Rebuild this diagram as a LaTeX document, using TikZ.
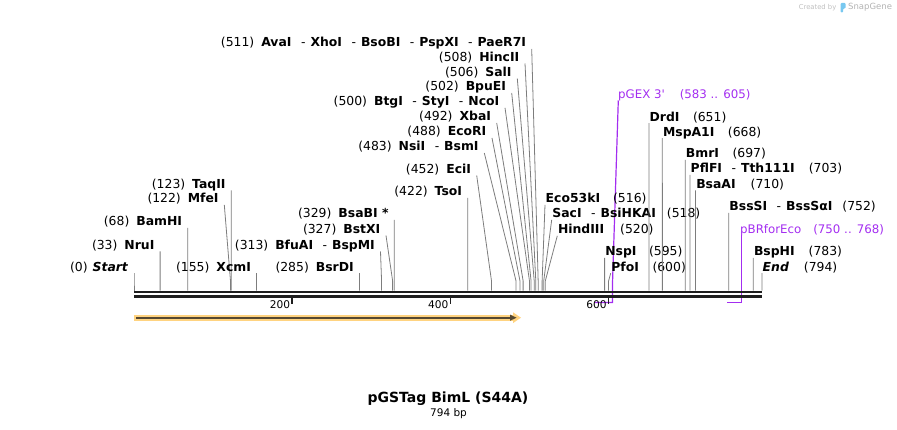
\documentclass[tikz,border=0pt]{standalone}
\usepackage{fontspec}
\setmainfont{DejaVu Sans}
\newfontfamily\featfont{DejaVu Sans}
\definecolor{cutgray}{RGB}{125,125,125}
\definecolor{featpurple}{RGB}{163,45,240}
\definecolor{featorange}{RGB}{255,211,128}
\definecolor{featdark}{RGB}{85,72,50}
\definecolor{barblack}{RGB}{30,30,30}
\definecolor{logoblue}{RGB}{120,200,240}
\newcommand{\gapL}{\hspace{7pt}}
\newcommand{\gapR}{\hspace{14pt}}
\newcommand{\dsh}{\hspace{9.5pt}-\hspace{5pt}}
\newcommand{\cutL}[5]{%
  \node[lab,anchor=east] (L#1) at (#3-5.5,#4+0.7) {#5};
  \coordinate (T#1) at (#3,#4+6.5);
  \coordinate (M#1) at ({134+#2*0.790932},281);
  \coordinate (B#1) at ({134+#2*0.790932},290.7);
  \draw[cut] (T#1) -- (M#1) -- (B#1);}
\newcommand{\cutR}[5]{%
  \node[lab,anchor=west] (L#1) at (#3+0.5,#4+0.7) {#5};
  \coordinate (T#1) at (#3,#4+6.5);
  \coordinate (M#1) at ({134+#2*0.790932},281);
  \coordinate (B#1) at ({134+#2*0.790932},290.7);
  \draw[cut] (T#1) -- (M#1) -- (B#1);}
\begin{document}
\begin{tikzpicture}[x=1pt,y=-1pt,
  lab/.style={inner sep=0pt,font=\fontsize{12.4}{14}\selectfont,text height=9.4pt,text depth=1.8pt},
  cut/.style={draw=cutgray,line width=0.8pt},
  feat/.style={draw=featpurple,line width=1.2pt},
  featlab/.style={inner sep=0pt,text=featpurple,font=\featfont\fontsize{11.8}{13}\selectfont,text height=9pt,text depth=1.8pt},
  ticklab/.style={inner sep=0pt,font=\fontsize{10.6}{12}\selectfont}]
\useasboundingbox (0,0) rectangle (897,430);

% features (purple primer brackets)
\node[featlab,anchor=west] (fgex) at (618,94.7) {pGEX 3'\hspace{15pt}(583 .. 605)};
\coordinate (gexT) at (618.3,100.5);
\coordinate (gexM) at (612.51,283);
\coordinate (gexB) at (612.51,302.6);
\coordinate (gexS) at (595.11,302.6);
\draw[feat] (gexT) -- (gexM) -- (gexB) -- (gexS);
\node[featlab,anchor=west] (fpbr) at (740,229.8) {pBRforEco\hspace{12pt}(750 .. 768)};
\coordinate (pbrT) at (741.44,235.5);
\coordinate (pbrB) at (741.44,302.6);
\coordinate (pbrS) at (727.2,302.6);
\draw[feat] (pbrT) -- (pbrB) -- (pbrS);

% left labels
\cutL{start}{0}{134}{266.7}{(0)\hspace{5pt}\textbf{\textit{Start}}}
\cutL{nru}{33}{160.1}{245}{(33)\gapL\textbf{NruI}}
\cutL{bam}{68}{187.78}{221.5}{(68)\gapL\textbf{BamHI}}
\cutL{mfe}{122}{224.3}{198.3}{(122)\gapL\textbf{MfeI}}
\cutL{taq}{123}{231.28}{184}{(123)\gapL\textbf{TaqII}}
\cutL{xcm}{155}{256.59}{266.7}{(155)\gapL\textbf{XcmI}}
\cutL{bsrd}{285}{359.42}{266.7}{(285)\gapL\textbf{BsrDI}}
\cutL{bfua}{313}{380.5}{245}{(313)\gapL\textbf{BfuAI}\dsh\textbf{BspMI}}
\cutL{bstx}{327}{386}{229}{(327)\gapL\textbf{BstXI}}
\cutL{bsab}{329}{394.22}{213.3}{(329)\gapL\textbf{BsaBI *}}
\cutL{tso}{422}{467.77}{191.5}{(422)\gapL\textbf{TsoI}}
\cutL{eci}{452}{476.7}{169}{(452)\gapL\textbf{EciI}}
\cutL{nsi}{483}{484.3}{146.5}{(483)\gapL\textbf{NsiI}\dsh\textbf{BsmI}}
\cutL{ecori}{488}{492}{131.5}{(488)\gapL\textbf{EcoRI}}
\cutL{xba}{492}{496.7}{116.5}{(492)\gapL\textbf{XbaI}}
\cutL{btg}{500}{505}{101.3}{(500)\gapL\textbf{BtgI}\dsh\textbf{StyI}\dsh\textbf{NcoI}}
\cutL{bpue}{502}{511.7}{86.5}{(502)\gapL\textbf{BpuEI}}
\cutL{sal}{506}{517.3}{72}{(506)\gapL\textbf{SalI}}
\cutL{hinc}{508}{525}{57}{(508)\gapL\textbf{HincII}}
\cutL{ava}{511}{531.7}{42.5}{(511)\gapL\textbf{AvaI}\dsh\textbf{XhoI}\dsh\textbf{BsoBI}\dsh\textbf{PspXI}\dsh\textbf{PaeR7I}}

% right labels
\cutR{eco53}{516}{545}{198.3}{\textbf{Eco53kI}\hspace{13pt}(516)}
\cutR{sac}{518}{551.7}{213.3}{\textbf{SacI}\dsh\textbf{BsiHKAI}\hspace{11pt}(518)}
\cutR{hind}{520}{557.3}{229.3}{\textbf{HindIII}\hspace{16pt}(520)}
\cutR{nsp}{595}{604.6}{251.5}{\textbf{NspI}\hspace{12.5pt}(595)}
\cutR{pfo}{600}{610.7}{266.7}{\textbf{PfoI}\hspace{13.5pt}(600)}
\cutR{drd}{651}{648.9}{116.7}{\textbf{DrdI}\hspace{13.5pt}(651)}
\cutR{msp}{668}{662.34}{131.7}{\textbf{MspA1I}\hspace{13.5pt}(668)}
\cutR{bmr}{697}{685.28}{153.3}{\textbf{BmrI}\hspace{13.5pt}(697)}
\cutR{pflf}{703}{690.03}{168.3}{\textbf{PflFI}\dsh\textbf{Tth111I}\gapR(703)}
\cutR{bsaa}{710}{695.56}{184}{\textbf{BsaAI}\hspace{15pt}(710)}
\cutR{bsss}{752}{728.78}{206.5}{\textbf{BssSI}\dsh\textbf{BssSαI}\hspace{10pt}(752)}
\cutR{bsph}{783}{753.3}{251.5}{\textbf{BspHI}\gapR(783)}
\cutR{end}{794}{762}{266.7}{\textbf{\textit{End}}\hspace{15pt}(794)}

% sequence bar
\coordinate (barL1) at (134,292);
\coordinate (barR1) at (762,292);
\coordinate (barL2) at (134,296.4);
\coordinate (barR2) at (762,296.4);
\draw[barblack,line width=2.7pt] (barL1) -- (barR1);
\draw[barblack,line width=2.7pt] (barL2) -- (barR2);

% ruler ticks
\foreach \v in {200,400,600}{
  \coordinate (tk\v) at ({134+\v*0.790932},297.6);
  \draw[barblack,line width=1.6pt] (tk\v) -- ++(0,6);
  \node[ticklab,anchor=east] (tl\v) at ({134+\v*0.790932-1.8},304.5) {\v};
}

% feature arrow
\fill[featorange] (134,314.7) rectangle (514,320.7);
\fill[featorange] (513,312.3) -- (521,317.7) -- (513,323.1) -- cycle;
\fill[featdark] (136,316.7) rectangle (511,318.7);
\fill[featdark] (510,314.6) -- (516.5,317.7) -- (510,320.8) -- cycle;

% title
\node[inner sep=0pt,font=\bfseries\fontsize{14}{16}\selectfont] (title) at (448,399) {pGSTag BimL (S44A)};
\node[inner sep=0pt,font=\fontsize{10.5}{12}\selectfont] (bp) at (448.5,414) {794 bp};

% logo
\node[inner sep=0pt,anchor=east,font=\fontsize{6.8}{8}\selectfont,text=gray!50] (cb) at (836.5,7.5) {Created by};
\fill[logoblue,rounded corners=1pt] (840.5,3) -- (845.5,3) -- (845.5,8.5) -- (843,8.5) -- (843,12.5) -- (840.5,12.5) -- cycle;
\node[inner sep=0pt,anchor=west,font=\fontsize{8.5}{10}\selectfont,text=gray!60] (sg) at (848,7.5) {SnapGene};
\end{tikzpicture}
\end{document}
